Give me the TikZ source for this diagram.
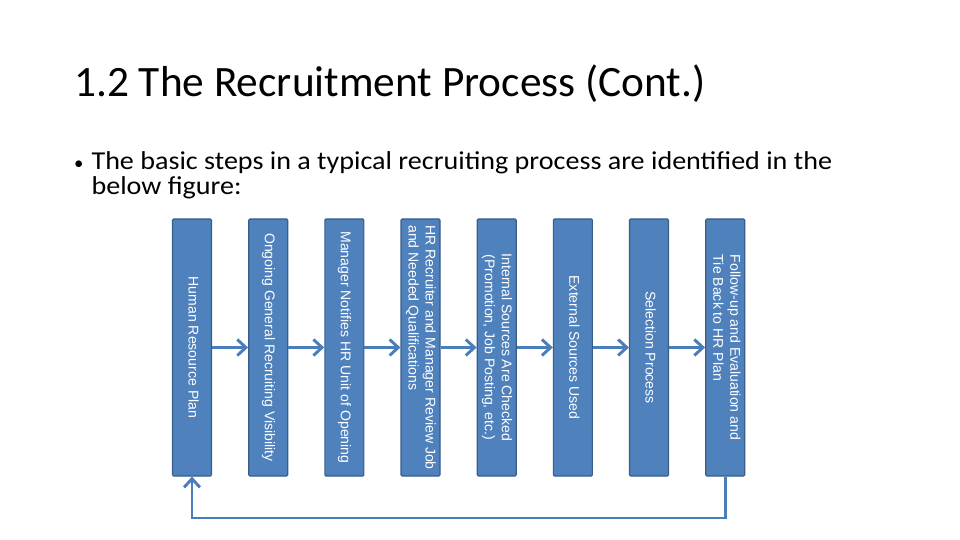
\documentclass[tikz,border=0pt]{standalone}
\usepackage{fontspec}
\setmainfont{Carlito}
\newfontfamily\boxfont{Liberation Sans}
\usepackage{graphicx}
\usetikzlibrary{arrows.meta,positioning}
\definecolor{stepfill}{HTML}{4F81BD}
\definecolor{stepdraw}{HTML}{385D8A}
\definecolor{flow}{HTML}{4A7EBB}

% rotated text for the vertical boxes
\newcommand{\sidetext}[2][l]{\rotatebox{-90}{\begin{tabular}{@{}#1@{}}#2\end{tabular}}}
% slightly widened body text
\newcommand{\widetext}[1]{\scalebox{1.09}[1]{#1}}

\begin{document}
\begin{tikzpicture}[
  node distance=1.08cm,
  stepbox/.style={
    draw=stepdraw,
    fill=stepfill,
    line width=1pt,
    rounded corners=1pt,
    minimum width=1.17cm,
    minimum height=7.71cm,
    inner sep=0pt,
    text=white,
    font=\boxfont\fontsize{12}{14.5}\selectfont
  },
  bodytext/.style={anchor=base west,inner sep=0pt,font=\fontsize{22}{26}\selectfont},
  arrow/.style={-{Straight Barb[length=2.6mm,width=4.8mm]},draw=flow,line width=2.5pt}
]
  \useasboundingbox (0,0) rectangle (28.8,-16.2);

  % heading and bullet
  \node[anchor=base west,inner sep=0pt,font=\fontsize{37}{44}\selectfont]
    (title) at (2.22,-2.91) {1.2 The Recruitment Process (Cont.)};
  \node[bodytext,font=\fontsize{16}{20}\selectfont] (dot) at (2.22,-5.1) {\textbullet};
  \node[bodytext] (intro) at (2.74,-5.1)
    {\widetext{The basic steps in a typical recruiting process are identified in the}};
  \node[bodytext] (intro2) at (2.74,-5.85) {\widetext{below figure:}};

  % steps
  \node[stepbox] (hrplan) at (5.76,-10.425) {\sidetext{Human Resource Plan}};
  \node[stepbox,right=of hrplan] (ongoing) {\sidetext{Ongoing General Recruiting Visibility}};
  \node[stepbox,right=of ongoing] (notify) {\sidetext{Manager Notifies HR Unit of Opening}};
  \node[stepbox,right=of notify] (review)
    {\sidetext{HR Recruiter and Manager Review Job\\and Needed Qualifications}};
  \node[stepbox,right=of review] (internal)
    {\sidetext[c]{Internal Sources Are Checked\\(Promotion, Job Posting, etc.)}};
  \node[stepbox,right=of internal] (external) {\sidetext{External Sources Used}};
  \node[stepbox,right=of external] (select) {\sidetext{Selection Process}};
  \node[stepbox,right=of select] (follow)
    {\sidetext{Follow-up and Evaluation and\\Tie Back to HR Plan}};

  \coordinate (loop) at (0,-15.54);

  \draw[arrow] (hrplan) -- (ongoing);
  \draw[arrow] (ongoing) -- (notify);
  \draw[arrow] (notify) -- (review);
  \draw[arrow] (review) -- (internal);
  \draw[arrow] (internal) -- (external);
  \draw[arrow] (external) -- (select);
  \draw[arrow] (select) -- (follow);
  \draw[arrow] (follow.south) |- (loop -| hrplan.south) -- (hrplan.south);

\end{tikzpicture}
\end{document}
